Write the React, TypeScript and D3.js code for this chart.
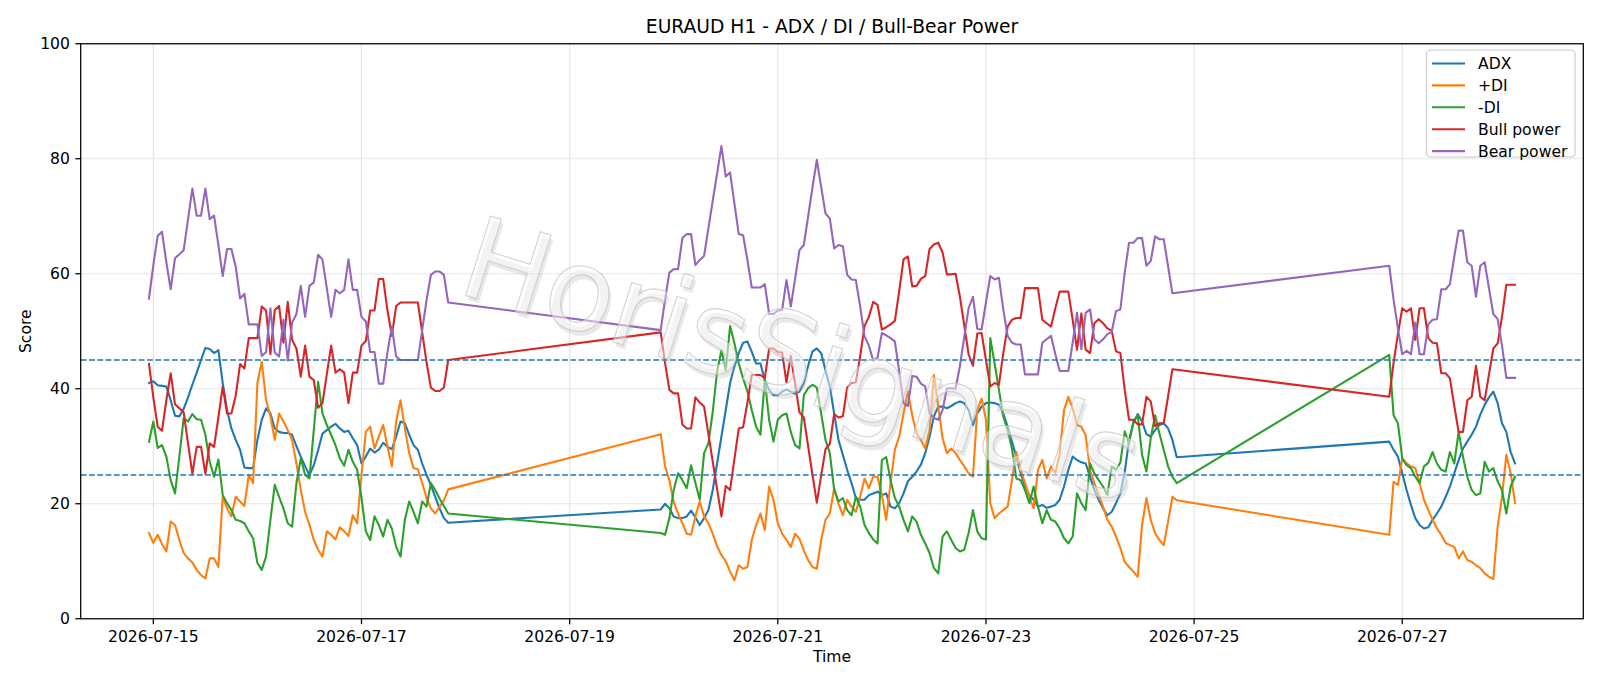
import React from "react";
import * as d3 from "d3";

// Hourly segments (trading sessions), lines connect across weekend gaps
const SEGMENT_STARTS = ["2026-07-14T23:00:00Z", "2026-07-19T21:00:00Z", "2026-07-26T21:00:00Z"];

const ADX_S1 = [41.0, 41.3, 40.6, 40.5, 40.4, 38.0, 35.3, 35.2, 36.5, 38.5, 40.7, 42.8, 45.0, 47.1, 46.9, 46.2, 46.7, 41.0, 36.3, 33.1, 31.1, 29.4, 26.3, 26.2, 26.2, 31.1, 34.6, 36.6, 35.7, 33.1, 32.5, 32.3, 32.3, 32.0, 30.0, 28.2, 26.5, 25.0, 26.7, 29.3, 32.2, 32.8, 33.4, 33.9, 33.1, 32.5, 32.7, 31.4, 30.2, 27.0, 28.2, 29.6, 28.9, 29.4, 30.6, 29.9, 29.5, 31.7, 34.3, 34.0, 32.0, 30.2, 29.4, 27.0, 25.0, 23.3, 21.2, 19.2, 17.5, 16.7];
const ADX_S2 = [19.0, 20.0, 19.2, 17.8, 17.5, 17.5, 17.8, 18.8, 17.6, 16.3, 17.5, 18.9, 22.4, 27.0, 31.7, 36.3, 41.0, 43.9, 46.2, 48.0, 48.2, 46.4, 44.4, 44.4, 41.5, 39.8, 38.9, 38.9, 39.5, 39.9, 39.5, 39.1, 39.5, 41.0, 44.0, 46.5, 47.0, 46.2, 43.2, 40.4, 35.7, 31.1, 28.5, 25.9, 23.6, 21.0, 20.7, 20.7, 21.5, 21.8, 22.1, 21.5, 21.8, 19.5, 19.2, 20.1, 21.8, 23.9, 24.7, 25.6, 26.8, 28.8, 31.7, 35.2, 36.9, 36.9, 36.6, 37.0, 37.5, 37.8, 37.5, 36.3, 33.7, 35.7, 36.9, 37.5, 37.6, 37.5, 37.2, 35.7, 33.4, 30.8, 28.2, 25.3, 23.0, 21.5, 20.7, 19.5, 19.8, 19.3, 19.5, 19.8, 20.7, 23.0, 25.9, 28.2, 27.6, 27.2, 27.0, 24.7, 22.4, 20.7, 19.2, 18.0, 18.6, 20.1, 21.8, 25.5, 31.1, 34.0, 35.6, 34.3, 32.1, 31.7, 32.8, 33.7, 34.0, 33.1, 31.1, 28.1];
const ADX_S3 = [30.8, 29.4, 28.2, 25.3, 22.4, 19.8, 17.5, 16.3, 15.7, 15.9, 17.2, 18.3, 19.5, 21.2, 23.0, 25.3, 27.6, 29.6, 30.8, 32.0, 33.4, 35.5, 37.2, 38.5, 39.5, 37.5, 34.0, 32.5, 29.0, 27.0];

const PDI_S1 = [14.9, 13.2, 14.6, 13.0, 11.7, 16.9, 16.3, 13.7, 11.4, 10.5, 9.8, 8.5, 7.6, 7.0, 10.5, 10.5, 9.0, 21.2, 19.2, 17.8, 21.2, 20.4, 19.6, 25.0, 23.6, 41.0, 44.7, 38.0, 35.2, 31.1, 35.7, 34.3, 32.8, 31.1, 27.0, 22.4, 18.6, 16.3, 13.7, 12.0, 10.8, 15.2, 14.6, 13.8, 15.9, 15.2, 14.4, 18.0, 16.6, 25.0, 32.5, 33.4, 29.6, 31.7, 33.7, 29.9, 26.5, 34.3, 38.0, 33.1, 28.8, 26.2, 26.0, 23.6, 21.0, 19.2, 18.3, 19.5, 20.6, 22.5];
const PDI_S2 = [32.1, 26.5, 24.1, 20.3, 18.3, 16.6, 14.8, 14.6, 17.8, 20.4, 17.8, 16.6, 14.8, 12.6, 11.1, 10.0, 8.2, 6.7, 9.3, 8.7, 9.0, 13.7, 16.3, 18.3, 15.4, 23.0, 20.7, 16.6, 14.8, 13.7, 12.5, 14.8, 13.9, 11.9, 10.2, 9.0, 8.7, 13.7, 17.2, 18.3, 22.7, 20.0, 18.0, 20.7, 19.5, 18.6, 21.2, 24.4, 22.7, 24.7, 24.7, 21.5, 17.2, 23.6, 29.4, 31.7, 35.7, 39.5, 35.4, 32.2, 31.1, 29.6, 32.8, 42.4, 36.9, 31.4, 28.8, 29.6, 28.8, 27.6, 26.5, 25.3, 24.7, 36.3, 38.3, 34.6, 20.1, 17.5, 18.3, 18.9, 19.5, 24.1, 29.0, 25.9, 23.6, 21.2, 19.2, 25.9, 27.6, 24.4, 26.5, 25.3, 28.8, 36.3, 38.6, 36.6, 33.7, 33.4, 31.9, 25.9, 23.6, 21.5, 19.5, 17.2, 16.0, 14.3, 12.3, 9.9, 9.0, 8.2, 7.3, 16.3, 21.0, 17.2, 14.9, 13.7, 12.8, 16.9, 21.2, 20.6];
const PDI_S3 = [14.6, 23.8, 23.3, 27.9, 27.0, 26.5, 26.2, 23.6, 20.7, 18.9, 17.2, 15.7, 14.6, 13.2, 12.8, 12.5, 10.5, 11.7, 10.2, 9.9, 9.3, 8.8, 7.9, 7.3, 6.9, 16.0, 21.2, 28.5, 25.3, 20.1];

const MDI_S1 = [30.8, 34.3, 29.7, 30.2, 28.2, 24.1, 21.8, 28.2, 34.9, 34.3, 35.6, 34.7, 34.6, 32.0, 27.3, 24.7, 27.7, 21.5, 20.1, 18.9, 17.2, 17.0, 16.6, 15.2, 14.0, 9.7, 8.5, 10.8, 17.2, 23.3, 21.2, 19.2, 16.6, 16.0, 23.6, 27.9, 25.0, 24.4, 32.8, 41.2, 35.7, 33.7, 32.0, 30.2, 27.9, 26.6, 29.4, 27.3, 25.9, 21.0, 15.2, 13.7, 17.8, 16.3, 14.3, 17.2, 15.7, 12.5, 10.8, 17.2, 20.4, 18.6, 16.6, 20.4, 19.5, 23.6, 22.4, 20.9, 19.6, 18.3];
const MDI_S2 = [14.9, 14.6, 17.5, 22.4, 25.3, 24.1, 22.7, 26.7, 23.6, 20.7, 28.8, 30.5, 36.0, 43.0, 46.7, 43.2, 50.9, 47.9, 44.4, 41.8, 39.5, 36.3, 33.4, 32.0, 41.5, 34.6, 30.8, 34.6, 35.4, 35.7, 32.5, 30.2, 29.6, 38.9, 40.1, 40.7, 40.2, 35.7, 31.1, 28.8, 22.4, 20.4, 21.0, 18.9, 18.0, 21.2, 19.5, 16.3, 14.9, 13.8, 13.1, 27.6, 28.1, 24.1, 21.0, 19.5, 17.2, 15.2, 17.8, 16.9, 14.6, 13.1, 11.4, 8.8, 7.9, 14.3, 15.2, 13.7, 12.3, 11.7, 12.0, 14.9, 18.9, 15.2, 14.0, 13.8, 48.8, 44.4, 39.8, 35.2, 32.8, 29.6, 24.4, 24.1, 22.4, 20.1, 23.0, 19.5, 16.6, 18.9, 17.2, 16.9, 15.7, 14.0, 13.1, 14.3, 21.8, 20.1, 18.9, 27.0, 25.3, 24.1, 23.0, 21.5, 26.5, 25.9, 27.2, 32.6, 30.5, 34.3, 35.4, 28.5, 25.6, 31.4, 35.4, 32.2, 29.4, 26.5, 24.7, 23.6];
const MDI_S3 = [45.9, 35.4, 34.0, 27.9, 26.7, 26.2, 24.7, 23.6, 26.5, 27.1, 29.0, 27.0, 25.9, 25.6, 29.0, 27.0, 32.5, 28.2, 24.7, 22.4, 21.5, 21.8, 27.3, 25.6, 26.2, 23.9, 22.4, 18.3, 23.0, 24.7];

const BULL_S1 = [44.3, 38.5, 33.4, 32.7, 38.0, 42.7, 37.3, 36.6, 35.9, 30.5, 25.2, 29.9, 29.9, 25.2, 30.5, 29.9, 35.0, 40.4, 35.7, 35.7, 38.8, 44.3, 43.5, 48.8, 48.8, 48.8, 54.3, 53.6, 46.0, 53.7, 54.4, 48.0, 55.1, 48.5, 47.0, 42.1, 47.5, 42.1, 41.5, 36.7, 37.5, 42.5, 47.5, 42.8, 43.4, 42.8, 37.5, 42.8, 42.8, 47.5, 48.3, 53.6, 53.6, 59.1, 59.1, 53.6, 49.2, 54.4, 55.0, 55.0, 55.0, 55.0, 55.0, 49.8, 44.6, 40.2, 39.6, 39.6, 40.2, 45.0];
const BULL_S2 = [49.8, 44.5, 39.8, 39.2, 39.2, 33.8, 33.1, 33.1, 38.5, 37.6, 36.9, 32.1, 27.3, 22.6, 17.8, 23.1, 22.4, 27.8, 33.1, 33.3, 37.6, 42.4, 42.4, 42.4, 41.8, 47.0, 47.0, 46.4, 46.3, 41.1, 45.7, 40.8, 35.9, 35.0, 30.0, 25.0, 20.2, 24.9, 29.5, 30.4, 35.6, 35.0, 35.2, 40.2, 41.0, 41.1, 45.7, 50.9, 52.5, 55.1, 54.6, 50.3, 50.7, 51.2, 51.8, 57.0, 62.5, 63.0, 57.8, 57.9, 59.1, 59.6, 64.3, 65.1, 65.4, 63.7, 59.9, 59.9, 60.0, 56.0, 51.0, 46.0, 44.0, 49.6, 49.7, 45.0, 40.4, 41.0, 40.7, 46.2, 50.8, 52.0, 52.3, 52.3, 57.5, 57.5, 57.5, 57.5, 52.0, 51.4, 50.8, 54.0, 56.9, 56.9, 56.9, 52.0, 46.8, 53.1, 46.8, 46.2, 51.4, 52.1, 51.4, 50.5, 50.1, 46.5, 46.2, 39.8, 34.6, 34.6, 33.8, 33.8, 38.6, 37.8, 33.5, 34.0, 34.0, 38.7, 43.4, 43.3];
const BULL_S3 = [38.6, 44.5, 49.5, 54.0, 53.4, 54.0, 48.5, 54.0, 54.0, 48.8, 48.0, 47.9, 42.7, 42.7, 41.8, 37.0, 32.5, 32.5, 38.0, 38.6, 44.0, 38.6, 38.0, 42.5, 47.0, 47.9, 52.5, 58.1, 58.1, 58.1];

const BEAR_S1 = [55.7, 61.5, 66.6, 67.3, 62.0, 57.3, 62.7, 63.4, 64.1, 69.5, 74.8, 70.1, 70.1, 74.8, 69.5, 70.1, 65.0, 59.6, 64.3, 64.3, 61.2, 55.7, 56.5, 51.2, 51.2, 51.2, 45.7, 46.4, 54.0, 46.3, 45.6, 52.0, 44.9, 51.5, 53.0, 57.9, 52.5, 57.9, 58.5, 63.3, 62.5, 57.5, 52.5, 57.2, 56.6, 57.2, 62.5, 57.2, 57.2, 52.5, 51.7, 46.4, 46.4, 40.9, 40.9, 46.4, 50.8, 45.6, 45.0, 45.0, 45.0, 45.0, 45.0, 50.2, 55.4, 59.8, 60.4, 60.4, 59.8, 55.0];
const BEAR_S2 = [50.2, 55.5, 60.2, 60.8, 60.8, 66.2, 66.9, 66.9, 61.5, 62.4, 63.1, 67.9, 72.7, 77.4, 82.2, 76.9, 77.6, 72.2, 66.9, 66.7, 62.4, 57.6, 57.6, 57.6, 58.2, 53.0, 53.0, 53.6, 53.7, 58.9, 54.3, 59.2, 64.1, 65.0, 70.0, 75.0, 79.8, 75.1, 70.5, 69.6, 64.4, 65.0, 64.8, 59.8, 59.0, 58.9, 54.3, 49.1, 47.5, 44.9, 45.4, 49.7, 49.3, 48.8, 48.2, 43.0, 37.5, 37.0, 42.2, 42.1, 40.9, 40.4, 35.7, 34.9, 34.6, 36.3, 40.1, 40.1, 40.0, 44.0, 49.0, 54.0, 56.0, 50.4, 50.3, 55.0, 59.6, 59.0, 59.3, 53.8, 49.2, 48.0, 47.7, 47.7, 42.5, 42.5, 42.5, 42.5, 48.0, 48.6, 49.2, 46.0, 43.1, 43.1, 43.1, 48.0, 53.2, 46.9, 53.2, 53.8, 48.6, 47.9, 48.6, 49.5, 49.9, 53.5, 53.8, 60.2, 65.4, 65.4, 66.2, 66.2, 61.4, 62.2, 66.5, 66.0, 66.0, 61.3, 56.6, 56.7];
const BEAR_S3 = [61.4, 55.5, 50.5, 46.0, 46.6, 46.0, 51.5, 46.0, 46.0, 51.2, 52.0, 52.1, 57.3, 57.3, 58.2, 63.0, 67.5, 67.5, 62.0, 61.4, 56.0, 61.4, 62.0, 57.5, 53.0, 52.1, 47.5, 41.9, 41.9, 41.9];

const SERIES_NAMES = ["ADX", "+DI", "-DI", "Bull power", "Bear power"];
const SERIES_COLORS = ["#1f77b4", "#ff7f0e", "#2ca02c", "#d62728", "#9467bd"];
const SERIES_SEGMENTS = [
  [ADX_S1, ADX_S2, ADX_S3],
  [PDI_S1, PDI_S2, PDI_S3],
  [MDI_S1, MDI_S2, MDI_S3],
  [BULL_S1, BULL_S2, BULL_S3],
  [BEAR_S1, BEAR_S2, BEAR_S3],
];

const X_TICKS = ["2026-07-15", "2026-07-17", "2026-07-19", "2026-07-21", "2026-07-23", "2026-07-25", "2026-07-27"];
const Y_TICKS = [0, 20, 40, 60, 80, 100];
const LEVELS = [25, 45];

const TITLE = "EURAUD H1 - ADX / DI / Bull-Bear Power";
const X_LABEL = "Time";
const Y_LABEL = "Score";
const WATERMARK = "HorisSignals";

const W = 1600;
const H = 686;
const PLOT = { left: 80.7, right: 1583.3, top: 43.75, bottom: 618.75 };
const FONT = "DejaVu Sans, Liberation Sans, sans-serif";

function toPoints(segs: number[][]) {
  const pts: { t: Date; v: number }[] = [];
  segs.forEach((vals, i) => {
    const start = Date.parse(SEGMENT_STARTS[i]);
    vals.forEach((v, k) => pts.push({ t: new Date(start + k * 3600e3), v }));
  });
  return pts;
}

export default function App() {
  const series = SERIES_SEGMENTS.map((segs, i) => ({
    name: SERIES_NAMES[i],
    color: SERIES_COLORS[i],
    pts: toPoints(segs),
  }));
  const allT = series[0].pts.map((p) => +p.t);
  const t0 = d3.min(allT) as number;
  const t1 = d3.max(allT) as number;
  const pad = (t1 - t0) * 0.05;
  const x = d3.scaleUtc().domain([new Date(t0 - pad), new Date(t1 + pad)]).range([PLOT.left, PLOT.right]);
  const y = d3.scaleLinear().domain([0, 100]).range([PLOT.bottom, PLOT.top]);
  const line = d3
    .line<{ t: Date; v: number }>()
    .x((d) => x(d.t))
    .y((d) => y(d.v));

  const xTicks = X_TICKS.map((s) => ({ label: s, t: new Date(s + "T00:00:00Z") }));
  const cx = (PLOT.left + PLOT.right) / 2;
  const cy = (PLOT.top + PLOT.bottom) / 2;

  const legend = { x: 1426.5, y: 50, w: 148.5, h: 107 };

  const wmX = 455;
  const wmY = 292;

  return (
    <svg
      width={W}
      height={H}
      viewBox={`0 0 ${W} ${H}`}
      style={{ position: "absolute", left: 0, top: 0, display: "block", background: "#fff" }}
      fontFamily={FONT}
    >
      <rect x={0} y={0} width={W} height={H} fill="#fff" />
      {/* grid */}
      <g stroke="#e6e6e6" strokeWidth={1.2}>
        {Y_TICKS.map((v) => (
          <line key={"gy" + v} x1={PLOT.left} x2={PLOT.right} y1={y(v)} y2={y(v)} />
        ))}
        {xTicks.map((d) => (
          <line key={"gx" + d.label} x1={x(d.t)} x2={x(d.t)} y1={PLOT.top} y2={PLOT.bottom} />
        ))}
      </g>
      {/* series */}
      <g fill="none" strokeWidth={2.1} strokeLinejoin="round" strokeLinecap="square">
        {series.map((s) => (
          <path key={s.name} d={line(s.pts) || ""} stroke={s.color} />
        ))}
      </g>
      {/* threshold lines */}
      {LEVELS.map((v) => (
        <line
          key={"lv" + v}
          x1={PLOT.left}
          x2={PLOT.right}
          y1={y(v)}
          y2={y(v)}
          stroke="#1f77b4"
          strokeWidth={1.4}
          strokeDasharray="5.8,2.5"
        />
      ))}
      {/* watermark */}
      <g transform={`rotate(17.5, ${wmX}, ${wmY})`} fontSize={114} fontFamily={FONT}>
        <text x={wmX + 3.5} y={wmY + 3.5} fill="#b0b0b0" fillOpacity={0.28} stroke="none">
          {WATERMARK}
        </text>
        <text x={wmX} y={wmY} fill="#ffffff" fillOpacity={0.45} stroke="#c4c4c4" strokeWidth={1.1} strokeOpacity={0.75}>
          {WATERMARK}
        </text>
      </g>
      {/* spines */}
      <rect
        x={PLOT.left}
        y={PLOT.top}
        width={PLOT.right - PLOT.left}
        height={PLOT.bottom - PLOT.top}
        fill="none"
        stroke="#000"
        strokeWidth={1.25}
      />
      {/* axes */}
      <g fontSize={15.6} fill="#000">
        {Y_TICKS.map((v) => (
          <g key={"yt" + v}>
            <line x1={PLOT.left - 5.4} x2={PLOT.left} y1={y(v)} y2={y(v)} stroke="#000" strokeWidth={1.25} />
            <text x={PLOT.left - 10.8} y={y(v)} textAnchor="end" dy="0.36em">
              {v}
            </text>
          </g>
        ))}
        {xTicks.map((d) => (
          <g key={"xt" + d.label}>
            <line x1={x(d.t)} x2={x(d.t)} y1={PLOT.bottom} y2={PLOT.bottom + 5.4} stroke="#000" strokeWidth={1.25} />
            <text x={x(d.t)} y={641.5} textAnchor="middle">
              {d.label}
            </text>
          </g>
        ))}
        <text x={cx} y={661.5} textAnchor="middle">
          {X_LABEL}
        </text>
        <text transform={`translate(25.5, ${cy}) rotate(-90)`} textAnchor="middle" dy="0.36em">
          {Y_LABEL}
        </text>
      </g>
      <text x={cx} y={32.5} textAnchor="middle" fontSize={18.7} fill="#000">
        {TITLE}
      </text>
      {/* legend */}
      <g>
        <rect
          x={legend.x}
          y={legend.y}
          width={legend.w}
          height={legend.h}
          rx={4}
          fill="#fff"
          fillOpacity={0.8}
          stroke="#cccccc"
          strokeWidth={1.2}
        />
        {series.map((s, i) => {
          const ly = 63.5 + i * 21.9;
          return (
            <g key={"lg" + s.name}>
              <line x1={1432} x2={1465} y1={ly} y2={ly} stroke={s.color} strokeWidth={2.1} />
              <text x={1478} y={ly} dy="0.36em" fontSize={15.6} fill="#000">
                {s.name}
              </text>
            </g>
          );
        })}
      </g>
    </svg>
  );
}
